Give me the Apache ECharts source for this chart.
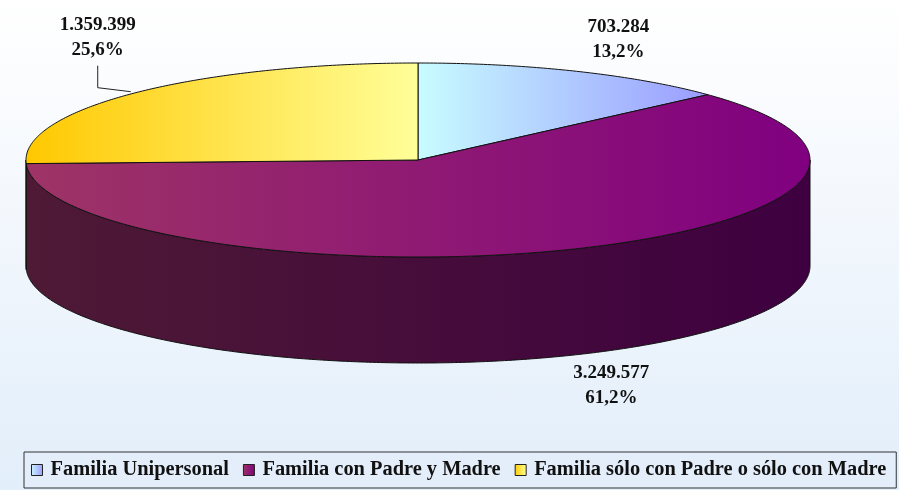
<!DOCTYPE html>
<html><head><meta charset="utf-8">
<script src="https://cdn.jsdelivr.net/npm/echarts@6/dist/echarts.min.js"></script>
<style>
html,body{margin:0;padding:0;}
#c{width:899px;height:490px;background:linear-gradient(to bottom,#ffffff 0%,#f4f8fd 40%,#e2eefa 100%);}
</style>
</head><body><div id="c"></div>
<script>
// ---- data ----
const categories = ['Familia Unipersonal', 'Familia con Padre y Madre', 'Familia sólo con Padre o sólo con Madre'];
const values = [703284, 3249577, 1359399];

// ---- layout / style (not data) ----
const G = {cx: 418, cy: 160, rx: 392, ry: 97, depth: 106};
const topColors = [['#c8fcff', '#9a9cff'], ['#9e3466', '#800080'], ['#ffc800', '#ffff99']];
const sideColors = [['#6a6aa0', '#505088'], ['#4e1a35', '#3e0040'], ['#8a6a00', '#706000']];
const legendColors = [['#ccf4ff', '#9a9cff'], ['#9e3466', '#800080'], ['#ffcc00', '#ffff99']];
const labelOffset = [[42, -32], [45, 30], [-38, -55]];
const useLeader = [false, false, true];

const total = values.reduce((a, b) => a + b, 0);
const starts = [];
let acc = 0;
values.forEach(v => { starts.push(acc); acc += v; });

function fmtNum(n) {
  return String(n).replace(/\B(?=(\d{3})+(?!\d))/g, '.');
}
function fmtPct(p) {
  return p.toFixed(1).replace('.', ',') + '%';
}
function hgrad(c) {
  return new echarts.graphic.LinearGradient(0, 0, 1, 0, [{offset: 0, color: c[0]}, {offset: 1, color: c[1]}]);
}

function makeRender(i) {
  return function (params, api) {
    const v = api.value(0), s = api.value(1), t = api.value(2);
    const a0 = s / t * 2 * Math.PI, a1 = (s + v) / t * 2 * Math.PI;
    const P = (a, dy) => [G.cx + G.rx * Math.sin(a), G.cy - G.ry * Math.cos(a) + (dy || 0)];
    const children = [];
    // side face (front half only)
    const f0 = Math.max(a0, Math.PI / 2), f1 = Math.min(a1, 3 * Math.PI / 2);
    if (f1 > f0) {
      const pts = [];
      const n = Math.max(2, Math.ceil((f1 - f0) / 0.01));
      for (let k = 0; k <= n; k++) pts.push(P(f0 + (f1 - f0) * k / n));
      for (let k = n; k >= 0; k--) pts.push(P(f0 + (f1 - f0) * k / n, G.depth));
      children.push({type: 'polygon', shape: {points: pts},
        style: {fill: hgrad(sideColors[i]), stroke: '#111', lineWidth: 1}});
    }
    // top face
    const tp = [[G.cx, G.cy]];
    const m = Math.max(2, Math.ceil((a1 - a0) / 0.01));
    for (let k = 0; k <= m; k++) tp.push(P(a0 + (a1 - a0) * k / m));
    children.push({type: 'polygon', shape: {points: tp},
      style: {fill: hgrad(topColors[i]), stroke: '#111', lineWidth: 1, lineJoin: 'round'}});
    // label
    const mid = (a0 + a1) / 2;
    const front = Math.cos(mid) < 0;
    const rim = P(mid, front ? G.depth : 0);
    const lx = rim[0] + labelOffset[i][0], ly = rim[1] + labelOffset[i][1];
    if (useLeader[i]) {
      children.push({type: 'polyline', shape: {points: [[rim[0] - 5, rim[1] - 1], [lx, rim[1] - 5], [lx, ly + 28]]},
        style: {stroke: '#222', lineWidth: 1, fill: null}});
    }
    children.push({type: 'text', x: lx, y: ly,
      style: {text: fmtNum(v) + '\n' + fmtPct(v / t * 100), fill: '#111',
        font: 'bold 19px "Liberation Serif"', align: 'center', verticalAlign: 'middle', lineHeight: 25}});
    return {type: 'group', children: children};
  };
}

const series = categories.map((name, i) => ({
  type: 'custom',
  name: name,
  coordinateSystem: 'none',
  renderItem: makeRender(i),
  itemStyle: {color: hgrad(legendColors[i])},
  data: [[values[i], starts[i], total]],
  animation: false,
  silent: true
}));

const chart = echarts.init(document.getElementById('c'), null, {renderer: 'canvas'});
chart.setOption({
  animation: false,
  legend: {
    left: 24, top: 452, width: 880,
    itemWidth: 11, itemHeight: 11, itemGap: 14,
    padding: [8, 10, 8, 7],
    backgroundColor: '#e3eefa', borderColor: '#333', borderWidth: 1,
    selectedMode: false,
    textStyle: {fontFamily: '"Liberation Serif"', fontWeight: 'bold', fontSize: 20.4, color: '#111', padding: [0, 0, 0, 3]},
    data: categories.map((n, i) => ({name: n, icon: 'rect',
      itemStyle: {color: hgrad(legendColors[i]), borderColor: '#222', borderWidth: 1}}))
  },
  series: series
});
</script>
</body></html>
